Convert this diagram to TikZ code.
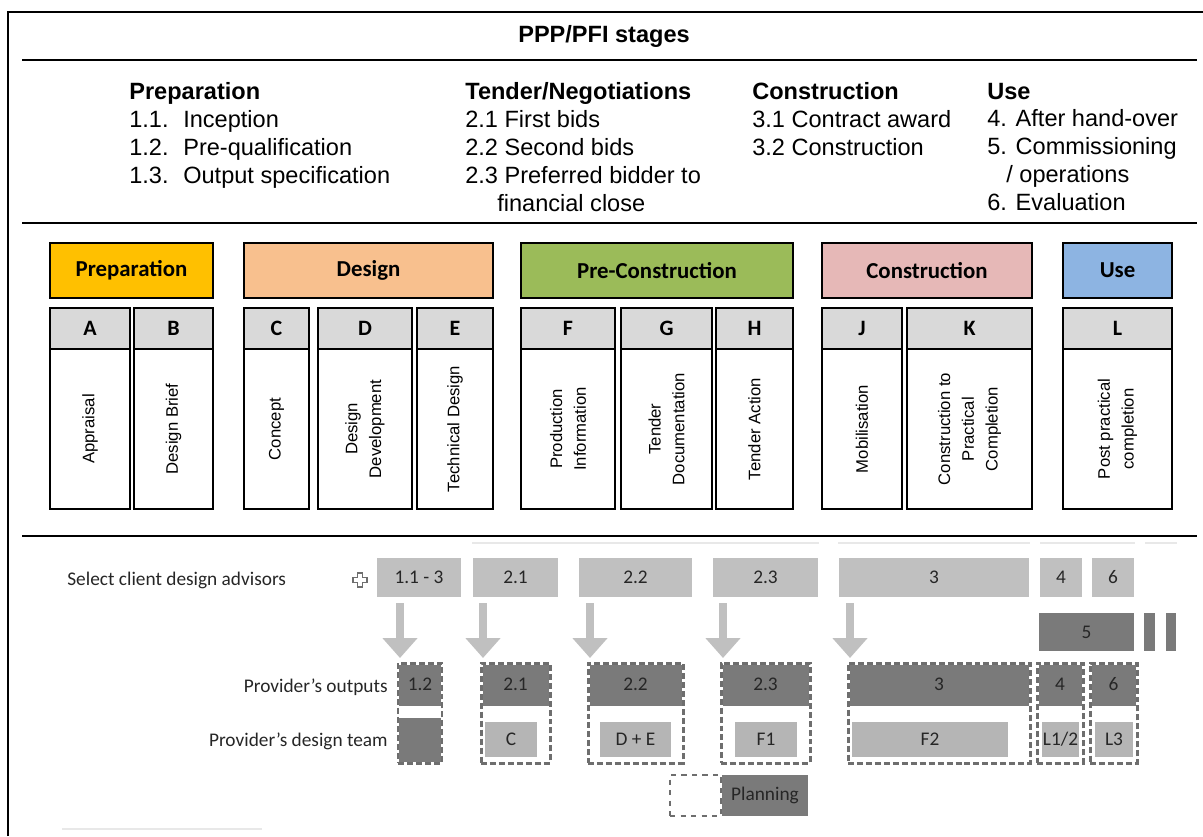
\documentclass[tikz,border=0pt]{standalone}
\usepackage{fontspec}
\setmainfont{Liberation Sans}
\newfontfamily\calfont{Carlito}
\usetikzlibrary{arrows.meta,calc}

\definecolor{prepcol}{HTML}{FFC000}
\definecolor{descol}{HTML}{F8C08E}
\definecolor{precol}{HTML}{9BBB59}
\definecolor{concol}{HTML}{E6B8B7}
\definecolor{usecol}{HTML}{8DB4E2}
\definecolor{lettercol}{HTML}{D9D9D9}
\definecolor{lightbar}{HTML}{C0C0C0}
\definecolor{darkbar}{HTML}{7A7A7A}
\definecolor{teambar}{HTML}{B5B5B5}
\definecolor{dashcol}{HTML}{6E6E6E}
\definecolor{faintcol}{HTML}{E8E8E8}
\definecolor{inkcol}{HTML}{262626}

\newcommand{\numcol}[1]{\makebox[1.08cm][l]{#1}}

\begin{document}
\begin{tikzpicture}
  [x=0.02cm,y=-0.02cm,
  spanbox/.style n args={4}{at={({(#1+#3)/2},{(#2+#4)/2})},
    minimum width={(#3-#1)*0.02cm},minimum height={(#4-#2)*0.02cm}},
  rule/.style={line width=1.1pt},
  coltext/.style={anchor=north west,align=left,inner sep=0pt,
    font=\fontsize{13.4}{15.9}\selectfont},
  phasebox/.style={draw,line width=1.2pt,inner sep=0pt,outer sep=0pt,
    font=\calfont\bfseries\fontsize{13}{15}\selectfont},
  letterbox/.style={draw,line width=1.2pt,fill=lettercol,inner sep=0pt,outer sep=0pt,
    font=\calfont\bfseries\fontsize{12.5}{15}\selectfont},
  stagebox/.style={draw,line width=1.2pt,inner sep=0pt,outer sep=0pt},
  vlabel/.style={rotate=90,align=center,inner sep=0pt,
    font=\fontsize{9.5}{13.5}\selectfont},
  barbox/.style={inner sep=0pt,outer sep=0pt,text=inkcol,
    font=\calfont\fontsize{11}{13}\selectfont},
  rowlabel/.style={inner sep=0pt,text=inkcol,font=\calfont\fontsize{11}{13}\selectfont},
  dashframe/.style={draw=dashcol,line width=1.7pt,dash pattern=on 3.4pt off 1.7pt,
    preaction={draw=white,solid,line width=1.7pt},inner sep=0pt,outer sep=0pt},
  bigarrow/.style={draw=lightbar,line width=0.16cm,-{Triangle[width=0.68cm,length=0.4cm]}}]

  \useasboundingbox (0,0) rectangle (1203,836);

  %% frame and rules
  \draw[rule] (8,836) -- (8,12) -- (1203,12);
  \draw[line width=1.7pt] (22,60) -- (1197,60);
  \draw[rule] (22,223) -- (1197,223);
  \draw[rule] (22,536) -- (1197,536);

  %% PPP/PFI stages
  \node[font=\bfseries\fontsize{13.4}{15.9}\selectfont] (title) at (604,36) {PPP/PFI stages};
  \node[coltext] (colprep) at (129,82.5) {\textbf{Preparation}\\
    \numcol{1.1.}Inception\\\numcol{1.2.}Pre-qualification\\\numcol{1.3.}Output specification};
  \node[coltext] (coltender) at (465,82.5) {\textbf{Tender/Negotiations}\\
    2.1 First bids\\2.2 Second bids\\2.3 Preferred bidder to\\\hspace*{0.64cm}financial close};
  \node[coltext] (colcon) at (752,82.5) {\textbf{Construction}\\
    3.1 Contract award\\3.2 Construction};
  \node[coltext] (coluse) at (987,82.5) {\textbf{Use}\\
    4. After hand-over\\5. Commissioning\\\hspace*{0.38cm}/ operations\\6. Evaluation};

  %% work stages
  \foreach \nodename/\xa/\xb/\colour/\phasename in {prep/50/213/prepcol/Preparation,
    des/244/493/descol/Design, pre/521/793/precol/Pre-Construction,
    con/822/1032/concol/Construction, use/1063/1172/usecol/Use}
  {
    \node[phasebox,fill=\colour,spanbox={\xa}{243}{\xb}{298}] (\nodename) {\phasename};
  }
  \foreach \nodename/\letter/\xa/\xb/\txt in {a/A/50/130/Appraisal, b/B/134/213/Design Brief,
    c/C/244/309/Concept, d/D/318/412/{Design\\Development}, e/E/417/493/Technical Design,
    f/F/521/615/{Production\\Information}, g/G/621/712/{Tender\\Documentation},
    h/H/716/793/Tender Action, j/J/822/902/Mobilisation,
    k/K/907/1032/{Construction to\\Practical\\Completion}, l/L/1063/1172/{Post practical\\completion}}
  {
    \node[letterbox,spanbox={\xa}{308}{\xb}{349}] (\nodename-head) {\letter};
    \node[stagebox,spanbox={\xa}{349}{\xb}{509}] (\nodename-body) {};
    \node[vlabel] (\nodename-txt) at (\nodename-body.center) {\txt};
  }

  %% faint rules
  \foreach \xa/\xb in {472/819, 838/1030, 1040/1135, 1145/1177}
    \draw[faintcol,line width=1.1pt] (\xa,543) -- (\xb,543);
  \draw[faintcol,line width=1.1pt] (62,829) -- (262,829);

  %% client advisors
  \node[rowlabel,anchor=west] (selectlbl) at (67,580) {Select client design advisors};
  \coordinate (plus) at (360,580);
  \draw[dashcol,line width=0.6pt] (plus) ++(-2.5,-7) -- ++(5,0) -- ++(0,4.5) -- ++(4.5,0)
    -- ++(0,5) -- ++(-4.5,0) -- ++(0,4.5) -- ++(-5,0) -- ++(0,-4.5) -- ++(-4.5,0)
    -- ++(0,-5) -- ++(4.5,0) -- cycle;
  \foreach \nodename/\xa/\xb/\txt in {t1/377/461/{1.1 - 3}, t2/473/558/2.1, t3/579/692/2.2,
    t4/713/818/2.3, t5/839/1029/3, t6/1040/1082/4, t7/1092/1134/6}
  {
    \node[barbox,fill=lightbar,spanbox={\xa}{558}{\xb}{597}] (\nodename) {\txt};
  }
  \node[barbox,fill=darkbar,spanbox={1039}{613}{1134}{651}] (n5) {5};
  \node[barbox,fill=darkbar,spanbox={1144}{613}{1155}{651}] (n5a) {};
  \node[barbox,fill=darkbar,spanbox={1166}{613}{1176}{651}] (n5b) {};

  %% provider rows
  \node[rowlabel,anchor=east] (outlbl) at (388,687) {Provider’s outputs};
  \node[rowlabel,anchor=east] (teamlbl) at (388,741) {Provider’s design team};
  \node[barbox,fill=darkbar,spanbox={398}{718}{442}{763}] (m1) {};
  \foreach \nodename/\xa/\xb/\txt in {m2/485/537/C, m3/600/671/{D + E}, m4/735/797/F1,
    m5/852/1008/F2, m6/1042/1079/{L1/2}, m7/1095/1133/L3}
  {
    \node[barbox,fill=teambar,spanbox={\xa}{722}{\xb}{757}] (\nodename) {\txt};
  }
  \foreach \nodename/\xa/\xb/\txt in {o1/398/442/1.2, o2/481/550/2.1, o3/588/683/2.2,
    o4/721/810/2.3, o5/848/1030/3, o6/1037/1083/4, o7/1090/1137/6}
  {
    \node[barbox,fill=darkbar,spanbox={\xa}{663}{\xb}{706}] (\nodename) {\txt};
    \node[dashframe,spanbox={\xa}{663}{\xb}{763}] (\nodename-frame) {};
  }
  \foreach \startnode/\endnode in {t1/o1, t2/o2, t3/o3, t4/o4, t5/o5}
  {
    \draw[bigarrow] ($(\startnode.south -| \endnode.north west)+(2,6)$)
      -- ($(\endnode.north west)+(2,-5)$);
  }

  %% planning
  \node[draw=dashcol,dashed,line width=0.6pt,inner sep=0pt,outer sep=0pt,
    spanbox={670}{775}{721}{816}] (planempty) {};
  \node[barbox,fill=darkbar,spanbox={722}{775}{808}{816}] (plan) {Planning};
\end{tikzpicture}
\end{document}
